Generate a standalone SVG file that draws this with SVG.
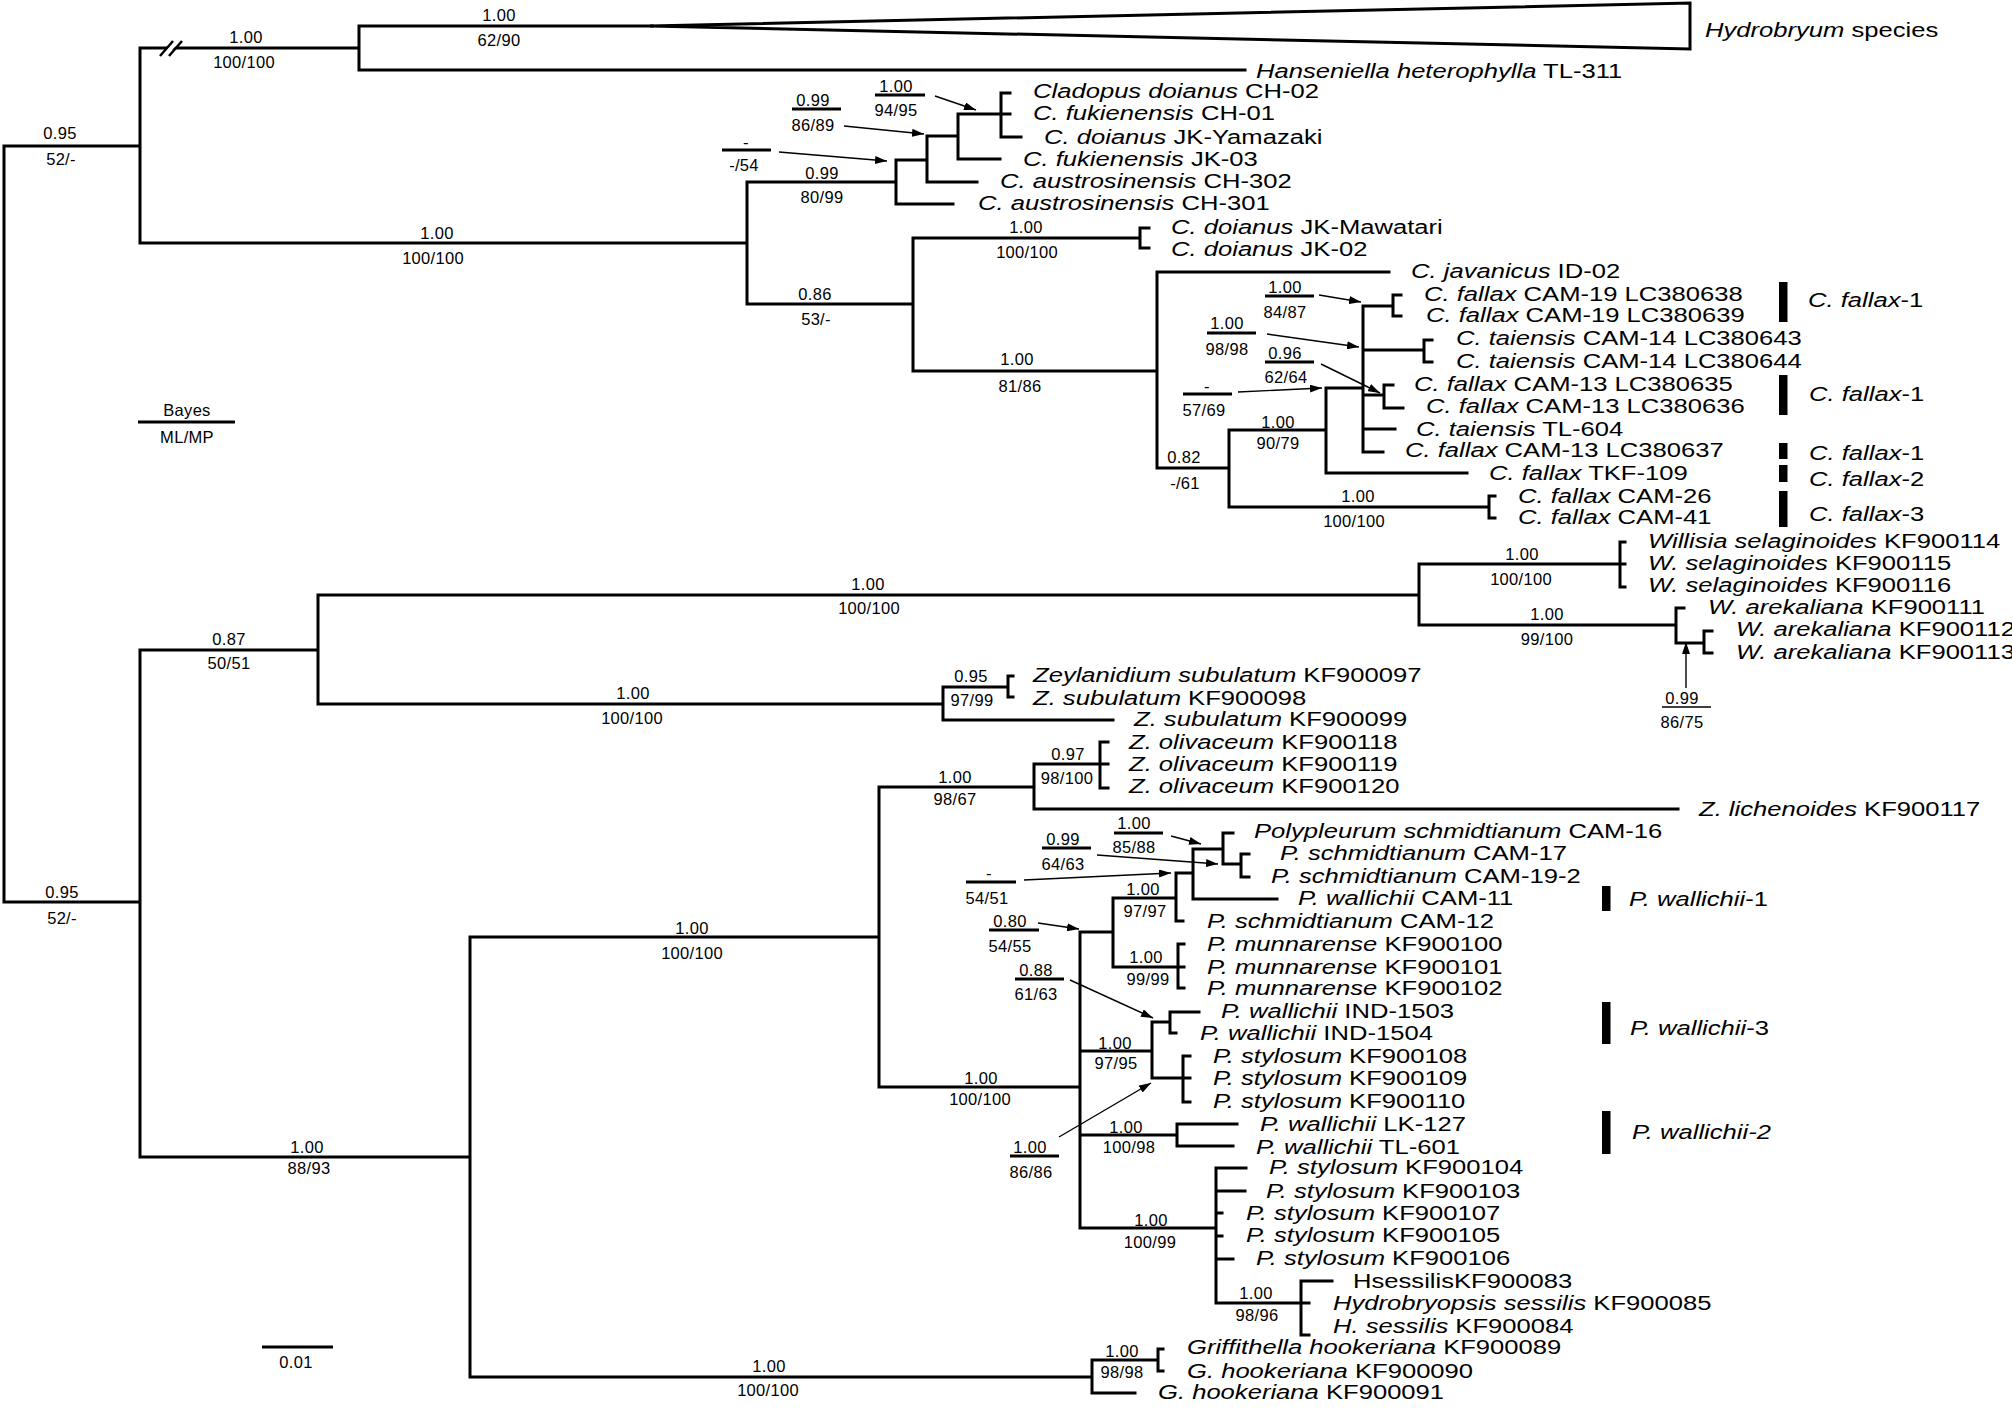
<svg xmlns="http://www.w3.org/2000/svg" width="2012" height="1413" viewBox="0 0 2012 1413">
<defs>
<style>
.br{fill:none;stroke:#000;stroke-width:3;stroke-linecap:square}
.an{fill:none;stroke:#000;stroke-width:3}
.ar{fill:none;stroke:#000;stroke-width:1.4}
.tx{font-family:"Liberation Sans",Arial,sans-serif;font-size:21px;fill:#000}
.sv{font-family:"Liberation Sans",Arial,sans-serif;font-size:16.5px;fill:#000;text-anchor:middle;letter-spacing:0.3px}
.i{font-style:italic}
.bar{fill:#000}
</style>
<marker id="ah" viewBox="0 0 12 8" refX="12" refY="4" markerWidth="12" markerHeight="8" markerUnits="userSpaceOnUse" orient="auto"><path d="M0,0 L12,4 L0,8 z" fill="#000"/></marker>
</defs>
<rect width="2012" height="1413" fill="#fff"/>

<g id="connectors">
<path class="br" d="M4 146V902 M4 146H140 M4 902H140
M140 48V243 M140 48H359 M140 243H747
M359 26V70 M359 26H652 M359 70H1245
M747 182V304 M747 182H896 M747 304H913
M896 160V204 M896 204H953 M896 160H927
M927 136V182 M927 182H977 M927 136H958
M958 114V159 M958 159H1000 M958 114H1001
M1001 93V137 M1001 93H1010 M1001 114H1010 M1001 137H1021
M913 238V371 M913 238H1140 M913 371H1157
M1140 228V248 M1140 228H1149 M1140 248H1149
M1157 272V468 M1157 272H1389 M1157 468H1229
M1229 430V507 M1229 430H1326 M1229 507H1489
M1489 496V518 M1489 496H1495 M1489 518H1495
M1326 388V473 M1326 388H1363 M1326 473H1467
M1363 306V452 M1363 306H1393 M1363 350H1424 M1363 395H1384 M1363 429H1395 M1363 452H1383
M1393 295V316 M1393 295H1401 M1393 316H1401
M1424 340V362 M1424 340H1432 M1424 362H1432
M1384 385V408 M1384 385H1393 M1384 408H1403
M140 650V1157 M140 650H318 M140 1157H470
M318 595V704 M318 595H1419 M318 704H943
M1419 564V625 M1419 564H1620 M1419 625H1676
M1620 542V587 M1620 542H1625 M1620 564H1625 M1620 587H1625
M1676 608V643 M1676 608H1684 M1676 643H1704
M1704 631V653 M1704 631H1712 M1704 653H1712
M943 687V720 M943 687H1008 M943 720H1113
M1008 676V697 M1008 676H1013 M1008 697H1013
M470 937V1377 M470 937H879 M470 1377H1092
M1092 1360V1393 M1092 1360H1158 M1092 1393H1135
M1158 1349V1371 M1158 1349H1163 M1158 1371H1163
M879 787V1087 M879 787H1034 M879 1087H1080
M1034 764V809 M1034 764H1100 M1034 809H1678
M1100 742V788 M1100 742H1108 M1100 764H1108 M1100 788H1108
M1080 932V1228 M1080 932H1113 M1080 1051H1152 M1080 1135H1177 M1080 1228H1216
M1113 898V967 M1113 898H1176 M1113 967H1178
M1178 944V988 M1178 944H1184 M1178 967H1184 M1178 988H1184
M1176 873V921 M1176 921H1183 M1176 873H1193
M1193 849V899 M1193 899H1277 M1193 849H1223
M1223 833V864 M1223 833H1233 M1223 864H1241
M1241 854V877 M1241 854H1249 M1241 877H1249
M1152 1022V1078 M1152 1022H1170 M1152 1078H1183
M1170 1012V1033 M1170 1012H1199 M1170 1033H1176
M1183 1056V1102 M1183 1056H1190 M1183 1078H1190 M1183 1102H1190
M1177 1124V1146 M1177 1124H1237 M1177 1146H1233
M1216 1168V1303 M1216 1168H1246 M1216 1191H1245 M1216 1213H1222 M1216 1236H1222 M1216 1259H1233 M1216 1303H1301
M1301 1281V1335 M1301 1281H1332 M1301 1303H1309 M1301 1335H1309"/>
<polygon class="br" points="650,26 1690,3 1690,49" stroke-linejoin="miter"/>
<g stroke="#fff" stroke-width="4"><line x1="164" y1="55" x2="178" y2="41"/></g>
<line x1="160" y1="56" x2="173" y2="41" stroke="#000" stroke-width="2.5"/>
<line x1="169" y1="56" x2="182" y2="41" stroke="#000" stroke-width="2.5"/>
<line class="ar" x1="935" y1="96" x2="976" y2="110" marker-end="url(#ah)"/>
<line class="ar" x1="844" y1="126" x2="924" y2="134" marker-end="url(#ah)"/>
<line class="ar" x1="779" y1="152" x2="887" y2="161" marker-end="url(#ah)"/>
<line class="ar" x1="1319" y1="295" x2="1361" y2="302" marker-end="url(#ah)"/>
<line class="ar" x1="1267" y1="334" x2="1359" y2="347" marker-end="url(#ah)"/>
<line class="ar" x1="1321" y1="364" x2="1380" y2="393" marker-end="url(#ah)"/>
<line class="ar" x1="1238" y1="392" x2="1322" y2="388" marker-end="url(#ah)"/>
<line class="ar" x1="1686" y1="688" x2="1686" y2="642" marker-end="url(#ah)"/>
<line class="ar" x1="1171" y1="836" x2="1201" y2="844" marker-end="url(#ah)"/>
<line class="ar" x1="1097" y1="855" x2="1218" y2="864" marker-end="url(#ah)"/>
<line class="ar" x1="1024" y1="880" x2="1171" y2="873" marker-end="url(#ah)"/>
<line class="ar" x1="1038" y1="923" x2="1079" y2="929" marker-end="url(#ah)"/>
<line class="ar" x1="1070" y1="980" x2="1153" y2="1018" marker-end="url(#ah)"/>
<line class="ar" x1="1059" y1="1137" x2="1151" y2="1083" marker-end="url(#ah)"/>
</g>

<g id="annotation-bars">
<line class="an" x1="875" y1="95" x2="925" y2="95"/>
<line class="an" x1="792" y1="109" x2="841" y2="109"/>
<line class="an" x1="722" y1="150" x2="771" y2="150"/>
<line class="an" x1="1265" y1="296" x2="1314" y2="296"/>
<line class="an" x1="1207" y1="333" x2="1256" y2="333"/>
<line class="an" x1="1265" y1="362" x2="1314" y2="362"/>
<line class="an" x1="1183" y1="394" x2="1232" y2="394"/>
<line x1="1662" y1="707" x2="1711" y2="707" stroke="#000" stroke-width="1.6"/>
<line class="an" x1="1114" y1="833" x2="1163" y2="833"/>
<line class="an" x1="1042" y1="848" x2="1091" y2="848"/>
<line class="an" x1="966" y1="882" x2="1016" y2="882"/>
<line class="an" x1="989" y1="930" x2="1039" y2="930"/>
<line class="an" x1="1015" y1="979" x2="1064" y2="979"/>
<line class="an" x1="1010" y1="1156" x2="1059" y2="1156"/>
<line class="an" x1="138" y1="422" x2="235" y2="422"/>
<line class="an" x1="262" y1="1347" x2="333" y2="1347"/>
<rect class="bar" x="1779" y="282" width="8.5" height="40"/>
<rect class="bar" x="1779" y="375" width="8.5" height="40"/>
<rect class="bar" x="1779" y="443" width="8.5" height="16"/>
<rect class="bar" x="1779" y="465" width="8.5" height="17"/>
<rect class="bar" x="1779" y="491" width="8.5" height="36"/>
<rect class="bar" x="1602" y="886" width="8.5" height="25"/>
<rect class="bar" x="1602" y="1002" width="8.5" height="42"/>
<rect class="bar" x="1602" y="1111" width="8.5" height="43"/>
</g>

<g id="support-values">
<text class="sv" x="499" y="21">1.00</text><text class="sv" x="499" y="46">62/90</text>
<text class="sv" x="246" y="43">1.00</text><text class="sv" x="244" y="68">100/100</text>
<text class="sv" x="60" y="139">0.95</text><text class="sv" x="61" y="165">52/-</text>
<text class="sv" x="437" y="239">1.00</text><text class="sv" x="433" y="264">100/100</text>
<text class="sv" x="822" y="179">0.99</text><text class="sv" x="822" y="203">80/99</text>
<text class="sv" x="815" y="300">0.86</text><text class="sv" x="816" y="325">53/-</text>
<text class="sv" x="1026" y="233">1.00</text><text class="sv" x="1027" y="258">100/100</text>
<text class="sv" x="1017" y="365">1.00</text><text class="sv" x="1020" y="392">81/86</text>
<text class="sv" x="1184" y="463">0.82</text><text class="sv" x="1185" y="489">-/61</text>
<text class="sv" x="1278" y="428">1.00</text><text class="sv" x="1278" y="449">90/79</text>
<text class="sv" x="1358" y="502">1.00</text><text class="sv" x="1354" y="527">100/100</text>
<text class="sv" x="896" y="92">1.00</text><text class="sv" x="896" y="116">94/95</text>
<text class="sv" x="813" y="106">0.99</text><text class="sv" x="813" y="131">86/89</text>
<text class="sv" x="746" y="148">-</text><text class="sv" x="744" y="171">-/54</text>
<text class="sv" x="1285" y="293">1.00</text><text class="sv" x="1285" y="318">84/87</text>
<text class="sv" x="1227" y="329">1.00</text><text class="sv" x="1227" y="355">98/98</text>
<text class="sv" x="1285" y="359">0.96</text><text class="sv" x="1286" y="383">62/64</text>
<text class="sv" x="1207" y="392">-</text><text class="sv" x="1204" y="416">57/69</text>
<text class="sv" x="1522" y="560">1.00</text><text class="sv" x="1521" y="585">100/100</text>
<text class="sv" x="1547" y="620">1.00</text><text class="sv" x="1547" y="645">99/100</text>
<text class="sv" x="1682" y="704">0.99</text><text class="sv" x="1682" y="728">86/75</text>
<text class="sv" x="868" y="590">1.00</text><text class="sv" x="869" y="614">100/100</text>
<text class="sv" x="229" y="645">0.87</text><text class="sv" x="229" y="669">50/51</text>
<text class="sv" x="971" y="682">0.95</text><text class="sv" x="972" y="706">97/99</text>
<text class="sv" x="633" y="699">1.00</text><text class="sv" x="632" y="724">100/100</text>
<text class="sv" x="62" y="898">0.95</text><text class="sv" x="62" y="924">52/-</text>
<text class="sv" x="307" y="1153">1.00</text><text class="sv" x="309" y="1174">88/93</text>
<text class="sv" x="692" y="934">1.00</text><text class="sv" x="692" y="959">100/100</text>
<text class="sv" x="769" y="1372">1.00</text><text class="sv" x="768" y="1396">100/100</text>
<text class="sv" x="1122" y="1357">1.00</text><text class="sv" x="1122" y="1378">98/98</text>
<text class="sv" x="955" y="783">1.00</text><text class="sv" x="955" y="805">98/67</text>
<text class="sv" x="1068" y="760">0.97</text><text class="sv" x="1067" y="784">98/100</text>
<text class="sv" x="981" y="1084">1.00</text><text class="sv" x="980" y="1105">100/100</text>
<text class="sv" x="1143" y="895">1.00</text><text class="sv" x="1145" y="917">97/97</text>
<text class="sv" x="1146" y="963">1.00</text><text class="sv" x="1148" y="985">99/99</text>
<text class="sv" x="1115" y="1049">1.00</text><text class="sv" x="1116" y="1069">97/95</text>
<text class="sv" x="1126" y="1133">1.00</text><text class="sv" x="1129" y="1153">100/98</text>
<text class="sv" x="1151" y="1226">1.00</text><text class="sv" x="1150" y="1248">100/99</text>
<text class="sv" x="1256" y="1299">1.00</text><text class="sv" x="1257" y="1321">98/96</text>
<text class="sv" x="1134" y="829">1.00</text><text class="sv" x="1134" y="853">85/88</text>
<text class="sv" x="1063" y="845">0.99</text><text class="sv" x="1063" y="870">64/63</text>
<text class="sv" x="989" y="879">-</text><text class="sv" x="987" y="904">54/51</text>
<text class="sv" x="1010" y="927">0.80</text><text class="sv" x="1010" y="952">54/55</text>
<text class="sv" x="1036" y="976">0.88</text><text class="sv" x="1036" y="1000">61/63</text>
<text class="sv" x="1030" y="1153">1.00</text><text class="sv" x="1031" y="1178">86/86</text>
<text class="sv" x="187" y="416">Bayes</text><text class="sv" x="187" y="443">ML/MP</text>
<text class="sv" x="296" y="1368">0.01</text>
</g>

<g id="taxa">
<g id="t01"><text class="tx" transform="translate(1705 36.5) scale(1.22 1)"><tspan class="i">Hydrobryum</tspan> species</text></g>
<g id="t02"><text class="tx" transform="translate(1256 77.5) scale(1.22 1)"><tspan class="i">Hanseniella heterophylla</tspan> TL-311</text></g>
<g id="t03"><text class="tx" transform="translate(1033 98.2) scale(1.22 1)"><tspan class="i">Cladopus doianus</tspan> CH-02</text></g>
<g id="t04"><text class="tx" transform="translate(1033 120.2) scale(1.22 1)"><tspan class="i">C. fukienensis</tspan> CH-01</text></g>
<g id="t05"><text class="tx" transform="translate(1044 143.5) scale(1.22 1)"><tspan class="i">C. doianus</tspan> JK-Yamazaki</text></g>
<g id="t06"><text class="tx" transform="translate(1023 165.8) scale(1.22 1)"><tspan class="i">C. fukienensis</tspan> JK-03</text></g>
<g id="t07"><text class="tx" transform="translate(1000 187.5) scale(1.22 1)"><tspan class="i">C. austrosinensis</tspan> CH-302</text></g>
<g id="t08"><text class="tx" transform="translate(978 210.2) scale(1.22 1)"><tspan class="i">C. austrosinensis</tspan> CH-301</text></g>
<g id="t09"><text class="tx" transform="translate(1171 234.2) scale(1.22 1)"><tspan class="i">C. doianus</tspan> JK-Mawatari</text></g>
<g id="t10"><text class="tx" transform="translate(1171 255.8) scale(1.22 1)"><tspan class="i">C. doianus</tspan> JK-02</text></g>
<g id="t11"><text class="tx" transform="translate(1411 278.2) scale(1.22 1)"><tspan class="i">C. javanicus</tspan> ID-02</text></g>
<g id="t12"><text class="tx" transform="translate(1424 300.8) scale(1.22 1)"><tspan class="i">C. fallax</tspan> CAM-19 LC380638</text></g>
<g id="t13"><text class="tx" transform="translate(1426 321.8) scale(1.22 1)"><tspan class="i">C. fallax</tspan> CAM-19 LC380639</text></g>
<g id="t14"><text class="tx" transform="translate(1456 344.8) scale(1.22 1)"><tspan class="i">C. taiensis</tspan> CAM-14 LC380643</text></g>
<g id="t15"><text class="tx" transform="translate(1456 367.5) scale(1.22 1)"><tspan class="i">C. taiensis</tspan> CAM-14 LC380644</text></g>
<g id="t16"><text class="tx" transform="translate(1414 390.8) scale(1.22 1)"><tspan class="i">C. fallax</tspan> CAM-13 LC380635</text></g>
<g id="t17"><text class="tx" transform="translate(1426 412.5) scale(1.22 1)"><tspan class="i">C. fallax</tspan> CAM-13 LC380636</text></g>
<g id="t18"><text class="tx" transform="translate(1416 435.8) scale(1.22 1)"><tspan class="i">C. taiensis</tspan> TL-604</text></g>
<g id="t19"><text class="tx" transform="translate(1405 456.8) scale(1.22 1)"><tspan class="i">C. fallax</tspan> CAM-13 LC380637</text></g>
<g id="t20"><text class="tx" transform="translate(1489 480.2) scale(1.22 1)"><tspan class="i">C. fallax</tspan> TKF-109</text></g>
<g id="t21"><text class="tx" transform="translate(1518 503.2) scale(1.22 1)"><tspan class="i">C. fallax</tspan> CAM-26</text></g>
<g id="t22"><text class="tx" transform="translate(1518 524.2) scale(1.22 1)"><tspan class="i">C. fallax</tspan> CAM-41</text></g>
<g id="t23"><text class="tx" transform="translate(1648 547.5) scale(1.22 1)"><tspan class="i">Willisia selaginoides</tspan> KF900114</text></g>
<g id="t24"><text class="tx" transform="translate(1648 569.8) scale(1.22 1)"><tspan class="i">W. selaginoides</tspan> KF900115</text></g>
<g id="t25"><text class="tx" transform="translate(1648 591.8) scale(1.22 1)"><tspan class="i">W. selaginoides</tspan> KF900116</text></g>
<g id="t26"><text class="tx" transform="translate(1708 614.2) scale(1.22 1)"><tspan class="i">W. arekaliana</tspan> KF900111</text></g>
<g id="t27"><text class="tx" transform="translate(1736 635.8) scale(1.22 1)"><tspan class="i">W. arekaliana</tspan> KF900112</text></g>
<g id="t28"><text class="tx" transform="translate(1736 659.2) scale(1.22 1)"><tspan class="i">W. arekaliana</tspan> KF900113</text></g>
<g id="t29"><text class="tx" transform="translate(1033 681.8) scale(1.22 1)"><tspan class="i">Zeylanidium subulatum</tspan> KF900097</text></g>
<g id="t30"><text class="tx" transform="translate(1033 704.8) scale(1.22 1)"><tspan class="i">Z. subulatum</tspan> KF900098</text></g>
<g id="t31"><text class="tx" transform="translate(1134 725.8) scale(1.22 1)"><tspan class="i">Z. subulatum</tspan> KF900099</text></g>
<g id="t32"><text class="tx" transform="translate(1129 749.2) scale(1.22 1)"><tspan class="i">Z. olivaceum</tspan> KF900118</text></g>
<g id="t33"><text class="tx" transform="translate(1129 770.8) scale(1.22 1)"><tspan class="i">Z. olivaceum</tspan> KF900119</text></g>
<g id="t34"><text class="tx" transform="translate(1129 793.2) scale(1.22 1)"><tspan class="i">Z. olivaceum</tspan> KF900120</text></g>
<g id="t35"><text class="tx" transform="translate(1699 815.8) scale(1.22 1)"><tspan class="i">Z. lichenoides</tspan> KF900117</text></g>
<g id="t36"><text class="tx" transform="translate(1254 837.5) scale(1.22 1)"><tspan class="i">Polypleurum schmidtianum</tspan> CAM-16</text></g>
<g id="t37"><text class="tx" transform="translate(1280 860.2) scale(1.22 1)"><tspan class="i">P. schmidtianum</tspan> CAM-17</text></g>
<g id="t38"><text class="tx" transform="translate(1271 882.5) scale(1.22 1)"><tspan class="i">P. schmidtianum</tspan> CAM-19-2</text></g>
<g id="t39"><text class="tx" transform="translate(1298 905.2) scale(1.22 1)"><tspan class="i">P. wallichii</tspan> CAM-11</text></g>
<g id="t40"><text class="tx" transform="translate(1207 927.5) scale(1.22 1)"><tspan class="i">P. schmidtianum</tspan> CAM-12</text></g>
<g id="t41"><text class="tx" transform="translate(1207 950.8) scale(1.22 1)"><tspan class="i">P. munnarense</tspan> KF900100</text></g>
<g id="t42"><text class="tx" transform="translate(1207 973.5) scale(1.22 1)"><tspan class="i">P. munnarense</tspan> KF900101</text></g>
<g id="t43"><text class="tx" transform="translate(1207 994.8) scale(1.22 1)"><tspan class="i">P. munnarense</tspan> KF900102</text></g>
<g id="t44"><text class="tx" transform="translate(1221 1018.2) scale(1.22 1)"><tspan class="i">P. wallichii</tspan> IND-1503</text></g>
<g id="t45"><text class="tx" transform="translate(1200 1039.8) scale(1.22 1)"><tspan class="i">P. wallichii</tspan> IND-1504</text></g>
<g id="t46"><text class="tx" transform="translate(1213 1062.5) scale(1.22 1)"><tspan class="i">P. stylosum</tspan> KF900108</text></g>
<g id="t47"><text class="tx" transform="translate(1213 1085.2) scale(1.22 1)"><tspan class="i">P. stylosum</tspan> KF900109</text></g>
<g id="t48"><text class="tx" transform="translate(1213 1107.5) scale(1.22 1)"><tspan class="i">P. stylosum</tspan> KF900110</text></g>
<g id="t49"><text class="tx" transform="translate(1260 1130.8) scale(1.22 1)"><tspan class="i">P. wallichii</tspan> LK-127</text></g>
<g id="t50"><text class="tx" transform="translate(1256 1153.5) scale(1.22 1)"><tspan class="i">P. wallichii</tspan> TL-601</text></g>
<g id="t51"><text class="tx" transform="translate(1269 1174.2) scale(1.22 1)"><tspan class="i">P. stylosum</tspan> KF900104</text></g>
<g id="t52"><text class="tx" transform="translate(1266 1197.5) scale(1.22 1)"><tspan class="i">P. stylosum</tspan> KF900103</text></g>
<g id="t53"><text class="tx" transform="translate(1246 1219.8) scale(1.22 1)"><tspan class="i">P. stylosum</tspan> KF900107</text></g>
<g id="t54"><text class="tx" transform="translate(1246 1241.8) scale(1.22 1)"><tspan class="i">P. stylosum</tspan> KF900105</text></g>
<g id="t55"><text class="tx" transform="translate(1256 1265.2) scale(1.22 1)"><tspan class="i">P. stylosum</tspan> KF900106</text></g>
<g id="t56"><text class="tx" transform="translate(1353 1287.5) scale(1.22 1)">HsessilisKF900083</text></g>
<g id="t57"><text class="tx" transform="translate(1333 1310.2) scale(1.22 1)"><tspan class="i">Hydrobryopsis sessilis</tspan> KF900085</text></g>
<g id="t58"><text class="tx" transform="translate(1333 1332.5) scale(1.22 1)"><tspan class="i">H. sessilis</tspan> KF900084</text></g>
<g id="t59"><text class="tx" transform="translate(1187 1354.2) scale(1.22 1)"><tspan class="i">Griffithella hookeriana</tspan> KF900089</text></g>
<g id="t60"><text class="tx" transform="translate(1187 1377.5) scale(1.22 1)"><tspan class="i">G. hookeriana</tspan> KF900090</text></g>
<g id="t61"><text class="tx" transform="translate(1158 1399.2) scale(1.22 1)"><tspan class="i">G. hookeriana</tspan> KF900091</text></g>
</g>

<g id="groups">
<g id="g1"><text class="tx" transform="translate(1808 306.5) scale(1.22 1)"><tspan class="i">C. fallax</tspan>-1</text></g>
<g id="g2"><text class="tx" transform="translate(1809 400.8) scale(1.22 1)"><tspan class="i">C. fallax</tspan>-1</text></g>
<g id="g3"><text class="tx" transform="translate(1809 460.2) scale(1.22 1)"><tspan class="i">C. fallax</tspan>-1</text></g>
<g id="g4"><text class="tx" transform="translate(1809 485.8) scale(1.22 1)"><tspan class="i">C. fallax</tspan>-2</text></g>
<g id="g5"><text class="tx" transform="translate(1809 520.8) scale(1.22 1)"><tspan class="i">C. fallax</tspan>-3</text></g>
<g id="g6"><text class="tx" transform="translate(1629 905.8) scale(1.22 1)"><tspan class="i">P. wallichii</tspan>-1</text></g>
<g id="g7"><text class="tx" transform="translate(1630 1034.8) scale(1.22 1)"><tspan class="i">P. wallichii</tspan>-3</text></g>
<g id="g8"><text class="tx" transform="translate(1632 1139.2) scale(1.22 1)"><tspan class="i">P. wallichii-2</tspan></text></g>
</g>
</svg>
